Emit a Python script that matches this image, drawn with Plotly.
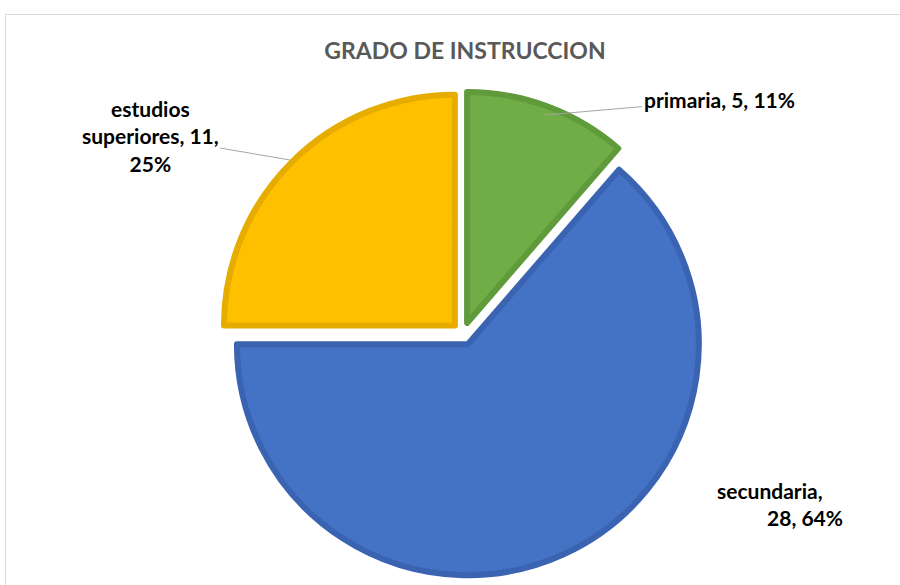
import plotly.graph_objects as go

labels = ["primaria", "secundaria", "estudios superiores"]
values = [5, 28, 11]
colors = ["#70AD47", "#4472C4", "#FFC000"]
border_colors = ["#5F9A3B", "#3A64B2", "#E6AC00"]

total = sum(values)
pcts = [round(v * 100 / total) for v in values]

W, H = 900, 585

def px(x):
    return x / W

def py(y):
    return 1 - y / H

fig = go.Figure()
fig.add_trace(go.Pie(
    labels=labels,
    values=values,
    sort=False,
    direction="clockwise",
    rotation=0,
    pull=[0.05, 0.05, 0.05],
    marker=dict(colors=colors, line=dict(color=border_colors, width=6)),
    textinfo="none",
    hoverinfo="label+value+percent",
    showlegend=False,
    domain=dict(x=[0.245, 0.784], y=[0.015, 0.844]),
))

font_lbl = dict(family="Lato, 'Open Sans', sans-serif", size=21, color="#000000")

# primaria label
fig.add_annotation(
    x=px(545), y=py(115), xref="paper", yref="paper",
    text=f"<b>{labels[0]}, {values[0]}, {pcts[0]}%</b>",
    showarrow=True, arrowhead=0, arrowwidth=1, arrowcolor="#A6A6A6",
    ax=174, ay=-15, font=font_lbl, standoff=0,
)
# estudios superiores label
w = labels[2].split(" ")
fig.add_annotation(
    x=px(290), y=py(160), xref="paper", yref="paper",
    text=f"<b>{w[0]}<br>{w[1]}, {values[2]},<br>{pcts[2]}%</b>",
    showarrow=True, arrowhead=0, arrowwidth=1, arrowcolor="#A6A6A6",
    ax=-140, ay=-24, font=font_lbl, align="center", standoff=0,
)
# secundaria label
fig.add_annotation(
    x=px(845), y=py(504), xref="paper", yref="paper", xanchor="right", yanchor="middle",
    text=f"<b>{labels[1]}," + "&nbsp;" * 4 + f"<br>{values[1]}, {pcts[1]}%</b>",
    showarrow=False, font=font_lbl, align="right",
)

# outer frame
fig.add_shape(type="rect", xref="paper", yref="paper",
              x0=px(5.5), y0=-0.05, x1=1.05, y1=py(14.5),
              line=dict(color="#D9D9D9", width=1), fillcolor="rgba(0,0,0,0)")

fig.update_layout(
    width=W, height=H,
    margin=dict(l=0, r=0, t=0, b=0),
    paper_bgcolor="white", plot_bgcolor="white",
    title=dict(text="<b>GRADO DE INSTRUCCION</b>", x=465 / W, xanchor="center",
               y=py(51), yanchor="middle",
               font=dict(family="Lato, 'Open Sans', sans-serif", size=23, color="#595959")),
)

fig.write_html("out.html", config={"displayModeBar": False},
               post_script="document.body.style.margin='0px';document.body.style.overflow='hidden';")
